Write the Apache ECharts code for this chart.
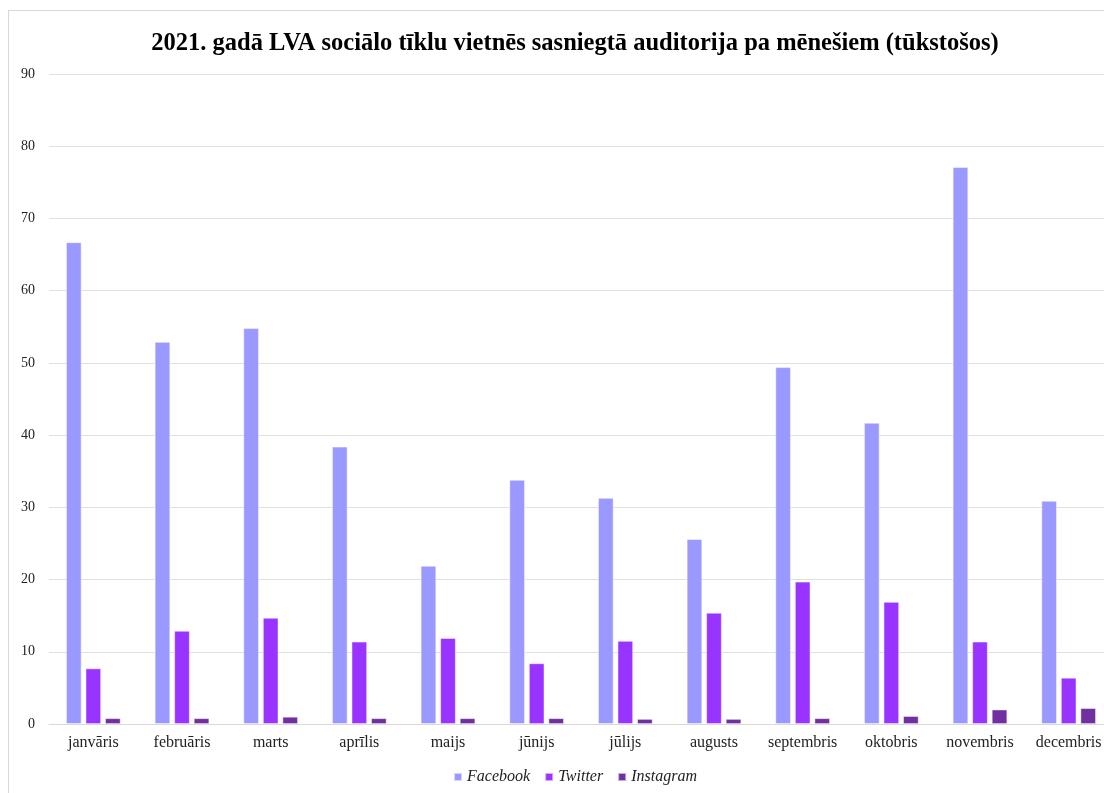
<!DOCTYPE html>
<html><head><meta charset="utf-8">
<script src="https://cdn.jsdelivr.net/npm/echarts@6/dist/echarts.min.js"></script>
<style>
html,body{margin:0;padding:0;overflow:hidden;background:#fff;width:1104px;height:793px;}
#frame{position:absolute;left:8px;top:10px;width:1140px;height:800px;border:1px solid #d9d9d9;box-sizing:border-box;}
#chart{position:absolute;left:0;top:0;width:1150px;height:793px;}
</style></head>
<body>
<div id="frame"></div>
<div id="chart"></div>
<script>
const titleText = '2021. gadā LVA sociālo tīklu vietnēs sasniegtā auditorija pa mēnešiem (tūkstošos)';
const months = ['janvāris','februāris','marts','aprīlis','maijs','jūnijs','jūlijs','augusts','septembris','oktobris','novembris','decembris'];
const facebook = [66.7, 52.9, 54.8, 38.4, 21.9, 33.8, 31.3, 25.6, 49.4, 41.7, 77.1, 30.9];
const twitter = [7.7, 12.9, 14.7, 11.4, 11.9, 8.4, 11.5, 15.4, 19.7, 16.9, 11.4, 6.4];
const instagram = [0.8, 0.8, 1.0, 0.8, 0.8, 0.8, 0.7, 0.7, 0.8, 1.1, 2.0, 2.2];
const seriesNames = ['Facebook','Twitter','Instagram'];
const colors = ['#9999FF','#9933FF','#7030A0'];

const chart = echarts.init(document.getElementById('chart'));
const serif = '"Liberation Serif","Times New Roman",serif';
const mk = (name, data, i) => ({
  name, type:'bar', data, barWidth:15.5, barGap:'26%',
  itemStyle:{color:colors[i], borderColor:'rgba(255,255,255,0.6)', borderWidth:0.8},
  emphasis:{disabled:true}
});
chart.setOption({
  animation:false,
  title:{text:titleText, left:'center', top:26,
    textStyle:{fontFamily:serif, fontSize:24.5, fontWeight:'bold', color:'#000'}},
  legend:{bottom:3, left:'center', itemWidth:8, itemHeight:8, itemGap:14, icon:'rect',
    textStyle:{fontFamily:serif, fontStyle:'italic', fontSize:16, color:'#222'},
    data:seriesNames},
  grid:{left:49, right:37, top:74, bottom:69, containLabel:false},
  xAxis:{type:'category', data:months,
    axisLine:{lineStyle:{color:'#d9d9d9'}}, axisTick:{show:false},
    axisLabel:{fontFamily:serif, fontSize:16, color:'#222', margin:11, interval:0}},
  yAxis:{type:'value', min:0, max:90, interval:10,
    axisLine:{show:false}, axisTick:{show:false},
    splitLine:{lineStyle:{color:'#e0e0e0'}},
    axisLabel:{fontFamily:serif, fontSize:14, color:'#222', margin:14}},
  series:[mk(seriesNames[0], facebook, 0), mk(seriesNames[1], twitter, 1), mk(seriesNames[2], instagram, 2)]
});
</script>
</body></html>
